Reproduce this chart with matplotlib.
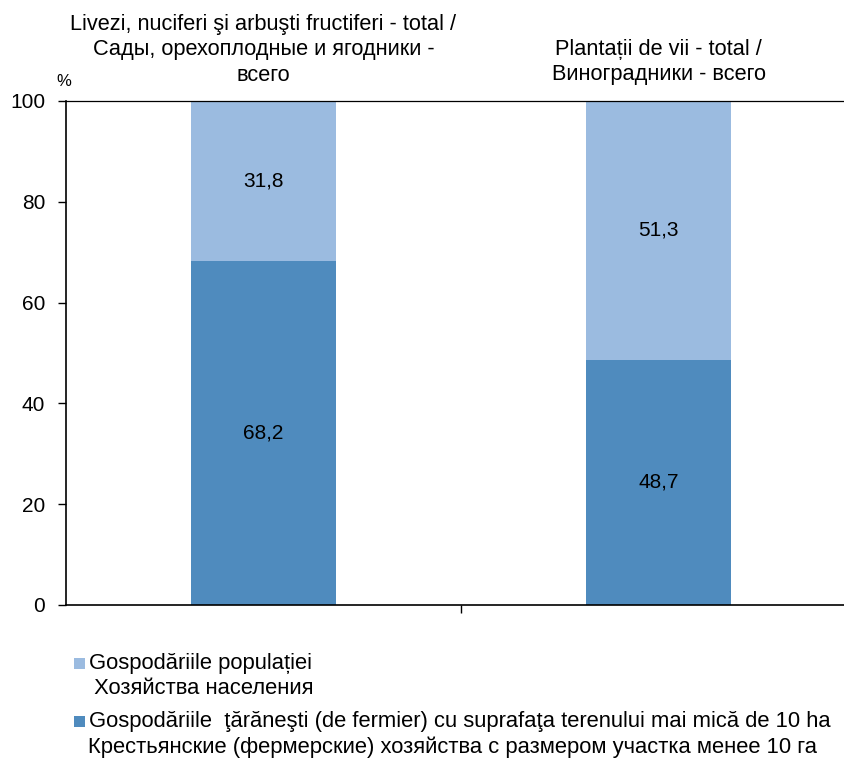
import matplotlib
matplotlib.use("Agg")
import matplotlib.pyplot as plt
from matplotlib.patches import Rectangle
from matplotlib.transforms import blended_transform_factory

categories = ["Livezi, nuciferi şi arbuşti fructiferi - total /\nСады, орехоплодные и ягодники -\nвсего",
              "Plantații de vii - total /\nВиноградники - всего"]
farm_vals = [68.2, 48.7]
household_vals = [31.8, 51.3]
series_labels = ["Gospodăriile populației\n Хозяйства населения",
                 "Gospodăriile  ţărăneşti (de fermier) cu suprafaţa terenului mai mică de 10 ha\nКрестьянские (фермерские) хозяйства с размером участка менее 10 га"]
yticks = [0, 20, 40, 60, 80, 100]

c_dark = "#4F8BBE"
c_light = "#9BBBE0"

font = "Liberation Sans"

W, H = 844, 762
fig = plt.figure(figsize=(W/100, H/100), dpi=100)
left = 66 / W
bottom = 1 - 605 / H
top = 1 - 101 / H
width = 790 / W
ax = fig.add_axes([left, bottom, width, top - bottom])

x = range(len(categories))
bw = 0.367
ax.bar(x, farm_vals, bw, color=c_dark)
ax.bar(x, household_vals, bw, bottom=farm_vals, color=c_light)

for i in x:
    ax.text(i, farm_vals[i] / 2, f"{farm_vals[i]:.1f}".replace(".", ","),
            ha="center", va="center", fontsize=15, family=font)
    ax.text(i, farm_vals[i] + household_vals[i] / 2, f"{household_vals[i]:.1f}".replace(".", ","),
            ha="center", va="center", fontsize=15, family=font)

# category titles above bars
trans = blended_transform_factory(ax.transData, fig.transFigure)
title_centers = [50, 62]
for i in x:
    ax.text(i, 1 - title_centers[i] / H, categories[i], transform=trans,
            ha="center", va="center", fontsize=15.7, family=font, linespacing=1.27,
            clip_on=False)

ax.set_xlim(-0.5, 1.5)
ax.set_ylim(0, 100)
ax.set_yticks(yticks)
ax.set_yticklabels([str(t) for t in yticks], family=font, fontsize=15)
ax.set_xticks([0.5])
ax.set_xticklabels([""])
ax.tick_params(axis="y", length=6, width=1, direction="out", pad=9)
ax.tick_params(axis="x", length=6, width=1, direction="out")
ax.spines["right"].set_visible(False)
for s in ["left", "bottom"]:
    ax.spines[s].set_linewidth(1.2)
ax.spines["top"].set_linewidth(0.9)

fig.text(64 / W, 1 - 82 / H, "%", ha="center", va="center", fontsize=12, family=font)

# legend
leg_rows = [(663, 689), (721, 747)]
colors = [c_light, c_dark]
for (y1, y2), col, lab in zip(leg_rows, colors, series_labels):
    fig.patches.append(Rectangle((74 / W, 1 - (y1 + 5.5) / H), 11 / W, 11 / H,
                                 transform=fig.transFigure, facecolor=col, edgecolor="none"))
    l1, l2 = lab.split("\n")
    fig.text(89 / W, 1 - y1 / H, l1, ha="left", va="center", fontsize=15.85, family=font)
    fig.text(88 / W, 1 - y2 / H, l2, ha="left", va="center", fontsize=15.85, family=font)

fig.savefig("out.png", dpi=100)
